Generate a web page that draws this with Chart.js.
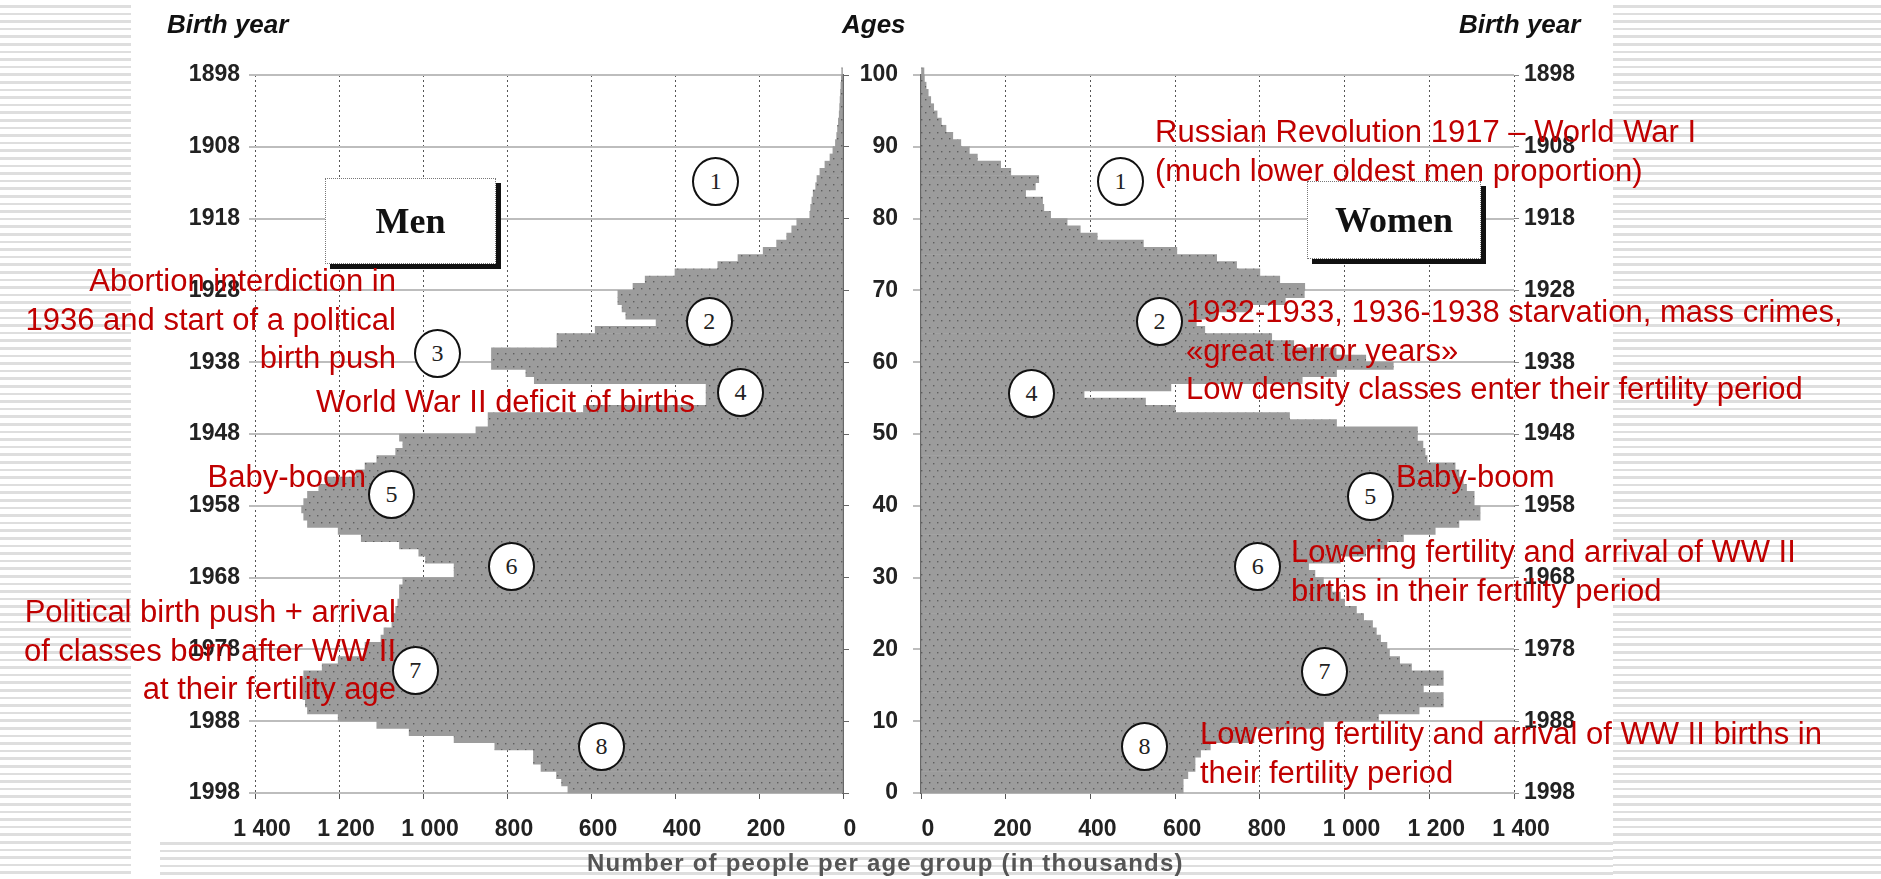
<!DOCTYPE html>
<html>
<head>
<meta charset="utf-8">
<script src="https://cdn.jsdelivr.net/npm/chart.js@4"></script>
<style>
  body { margin: 0; background: #fff; }
  #page { position: relative; width: 1881px; height: 879px; overflow: hidden; font-family: "Liberation Sans", Arial, sans-serif; }
  .stripes { position: absolute; background: repeating-linear-gradient(180deg, #fff 0, #fff 5px, #dedede 5px, #dedede 7.6px); }
  canvas { position: absolute; left: 0; top: 0; }
  .note { position: absolute; color: #c00000; font-size: 31px; line-height: 38.5px; white-space: nowrap; z-index: 5; }
  .r { text-align: right; }
  .head { position: absolute; font: italic bold 26px "Liberation Sans", Arial, sans-serif; line-height: 30px; color: #111; white-space: nowrap; }
  .box { position: absolute; background: #fff; border: 1px dotted #777; box-shadow: 5px 5px 0 #111; font: bold 36px "Liberation Serif", "Times New Roman", serif; color: #111; display: flex; align-items: center; justify-content: center; z-index: 3; }
  .num { position: absolute; width: 43px; height: 45px; border: 2.5px solid #111; border-radius: 50%; background: #fff; font: 24px "Liberation Serif", "Times New Roman", serif; color: #222; display: flex; align-items: center; justify-content: center; z-index: 4; }
  #xtitle { position: absolute; left: 587px; top: 849px; font: bold 24px "Liberation Sans", Arial, sans-serif; letter-spacing: 1.2px; line-height: 28px; color: #555; white-space: nowrap; }
</style>
</head>
<body>
<div id="page">
  <div class="stripes" style="left:0;top:0;width:131px;height:879px"></div>
  <div class="stripes" style="left:1613px;top:0;width:268px;height:879px"></div>
  <div class="stripes" style="left:160px;top:837px;width:1453px;height:42px"></div>

  <canvas id="men" width="1881" height="879"></canvas>
  <canvas id="women" width="1881" height="879"></canvas>

  <div class="head" style="left:167px;top:9px">Birth year</div>
  <div class="head" style="left:842px;top:9px">Ages</div>
  <div class="head" style="left:1459px;top:9px">Birth year</div>
  <div id="xtitle">Number of people per age group (in thousands)</div>

  <div class="box" style="left:325px;top:178px;width:169px;height:84px">Men</div>
  <div class="box" style="left:1307px;top:181px;width:172px;height:76px">Women</div>

  <div class="note" style="left:1155px;top:113px">Russian Revolution 1917 – World War I<br>(much lower oldest men proportion)</div>
  <div class="note r" style="right:1485px;top:262px">Abortion interdiction in<br>1936 and start of a political<br>birth push</div>
  <div class="note" style="left:1186px;top:293px">1932-1933, 1936-1938 starvation, mass crimes,<br>«great terror years»<br>Low density classes enter their fertility period</div>
  <div class="note r" style="right:1186px;top:383px">World War II deficit of births</div>
  <div class="note r" style="right:1515px;top:458px">Baby-boom</div>
  <div class="note" style="left:1396px;top:458px">Baby-boom</div>
  <div class="note" style="left:1291px;top:533px">Lowering fertility and arrival of WW II<br>births in their fertility period</div>
  <div class="note r" style="right:1485px;top:593px">Political birth push + arrival<br>of classes born after WW II<br>at their fertility age</div>
  <div class="note" style="left:1200px;top:715px">Lowering fertility and arrival of WW II births in<br>their fertility period</div>
</div>

<script>
// ages 0..100, values in thousands
const ages = Array.from({ length: 101 }, (_, i) => i);

const menValues = [
  655, 670, 682, 719, 737, 737, 829, 926, 1033, 1110,
  1202, 1275, 1280, 1286, 1286, 1286, 1284, 1240, 1202, 1138,
  1138, 1100, 1093, 1074, 1074, 1065, 1060, 1056, 1056, 1048,
  926, 926, 994, 1010, 1056, 1147, 1202, 1275, 1284, 1289,
  1284, 1275, 1248, 1229, 1160, 1138, 1110, 1065, 1048, 1056,
  874, 845, 845, 618, 326, 326, 326, 735, 755, 837,
  837, 837, 681, 681, 590, 445, 517, 526, 536, 536,
  500, 471, 400, 298, 250, 190, 158, 134, 122, 110,
  79, 77, 74, 71, 65, 62, 55, 43, 31, 24,
  18, 15, 13, 11, 9, 8, 7, 6, 5, 4,
  3
];

const womenValues = [
  619, 619, 630, 647, 647, 660, 683, 786, 786, 950,
  1080, 1176, 1233, 1233, 1186, 1233, 1233, 1158, 1130, 1106,
  1100, 1085, 1075, 1066, 1045, 1028, 1000, 990, 970, 950,
  930, 915, 990, 1050, 1100, 1139, 1214, 1270, 1320, 1320,
  1306, 1306, 1288, 1280, 1270, 1261, 1195, 1190, 1185, 1172,
  1172, 981, 870, 600, 530, 385, 590, 900, 981, 1115,
  1050, 980, 880, 828, 670, 650, 700, 780, 860, 905,
  906, 847, 800, 745, 698, 604, 525, 416, 376, 345,
  306, 290, 287, 247, 270, 278, 212, 188, 133, 114,
  94, 75, 59, 48, 38, 30, 23, 17, 12, 8,
  7
];

const xTicks = [0, 200, 400, 600, 800, 1000, 1200, 1400];
const lastBirthYear = 1998;

// numbered markers: [label, value, age]
const menMarks = [[1, 302, 85.1], [2, 317, 65.6], [3, 964, 61.1], [4, 243, 55.7], [5, 1074, 41.5], [6, 788, 31.5], [7, 1017, 17.0], [8, 574, 6.4]];
const womenMarks = [[1, 472, 85.1], [2, 564, 65.6], [4, 262, 55.6], [5, 1062, 41.2], [6, 796, 31.5], [7, 954, 16.8], [8, 529, 6.4]];

function formatarMilhar(v) {
  if (v >= 1000) return "1 " + String(v - 1000).padStart(3, "0");
  return String(v);
}

function criarTextura() {
  const c = document.createElement("canvas");
  c.width = 8; c.height = 13;
  const g = c.getContext("2d");
  g.fillStyle = "#9c9c9c";
  g.fillRect(0, 0, 8, 13);
  g.fillStyle = "#5e5e5e";
  g.fillRect(1, 2, 1.4, 1.4);
  g.fillRect(5, 8, 1.4, 1.4);
  return g.createPattern(c, "repeat");
}

const textura = criarTextura();
const fonteTick = { family: "Liberation Sans", size: 23, weight: "bold" };

function pontos(valores) {
  return ages.map((a, i) => ({ x: valores[i], y: a + 0.5 }));
}

function eixoX(reverse) {
  return {
    type: "linear", min: 0, max: 1400, reverse: reverse,
    afterBuildTicks: s => { s.ticks = xTicks.map(v => ({ value: v })); },
    ticks: { callback: v => formatarMilhar(v), font: fonteTick, color: "#222", padding: 17, labelOffset: 7, maxRotation: 0 },
    grid: { color: "#555", lineWidth: 1, tickLength: 6 },
    border: { display: true, color: "#bdbdbd", width: 2, dash: [2, 3] },
    afterFit: s => { s.height = 57; }
  };
}

function dataset(valores) {
  return {
    data: pontos(valores),
    backgroundColor: textura,
    borderWidth: 0,
    barPercentage: 1,
    categoryPercentage: 1,
    clip: false
  };
}

const opcoesBase = {
  indexAxis: "y",
  responsive: false,
  animation: false,
  events: [],
  plugins: { legend: { display: false }, tooltip: { enabled: false } }
};

const graficoHomens = new Chart(document.getElementById("men"), {
  type: "bar",
  data: { datasets: [dataset(menValues)] },
  options: {
    ...opcoesBase,
    layout: { padding: { left: 140, right: 1038, top: 75, bottom: 29 } },
    scales: {
      x: eixoX(true),
      y: {
        type: "linear", position: "left", min: 0, max: 100, offset: false,
        ticks: { stepSize: 10, callback: v => lastBirthYear - v, font: fonteTick, color: "#222", padding: 9 },
        grid: { offset: false, color: "#bdbdbd", lineWidth: 2, tickLength: 6 },
        border: { display: false },
        afterFit: s => { s.width = 115; }
      },
      y2: {
        type: "linear", position: "right", min: 0, max: 100, offset: false,
        ticks: { stepSize: 10, display: false },
        grid: { offset: false, drawOnChartArea: false, color: "#666", lineWidth: 1, tickLength: 6 },
        border: { display: true, color: "#666", width: 2 },
        afterFit: s => { s.width = 0; }
      }
    }
  }
});

const graficoMulheres = new Chart(document.getElementById("women"), {
  type: "bar",
  data: { datasets: [dataset(womenValues)] },
  options: {
    ...opcoesBase,
    layout: { padding: { left: 843, right: 287, top: 75, bottom: 29 } },
    scales: {
      x: eixoX(false),
      y: {
        type: "linear", position: "left", min: 0, max: 100, offset: false,
        ticks: { stepSize: 10, font: fonteTick, color: "#222", padding: 15 },
        grid: { offset: false, color: "#bdbdbd", lineWidth: 2, tickLength: 8 },
        border: { display: true, color: "#666", width: 2 },
        afterFit: s => { s.width = 78; }
      },
      y2: {
        type: "linear", position: "right", min: 0, max: 100, offset: false,
        ticks: { stepSize: 10, callback: v => lastBirthYear - v, font: fonteTick, color: "#222", padding: 5 },
        grid: { offset: false, drawOnChartArea: false, color: "#888", lineWidth: 1, tickLength: 5 },
        border: { display: false },
        afterFit: s => { s.width = 80; }
      }
    }
  }
});

// numbered circles placed through the chart scales
const page = document.getElementById("page");
function marcar(grafico, marcas) {
  const sx = grafico.scales.x, sy = grafico.scales.y;
  marcas.forEach(([n, v, a]) => {
    const d = document.createElement("div");
    d.className = "num";
    d.textContent = n;
    d.style.left = (sx.getPixelForValue(v) - 24) + "px";
    d.style.top = (sy.getPixelForValue(a) - 25) + "px";
    page.appendChild(d);
  });
}
marcar(graficoHomens, menMarks);
marcar(graficoMulheres, womenMarks);
</script>
</body>
</html>
